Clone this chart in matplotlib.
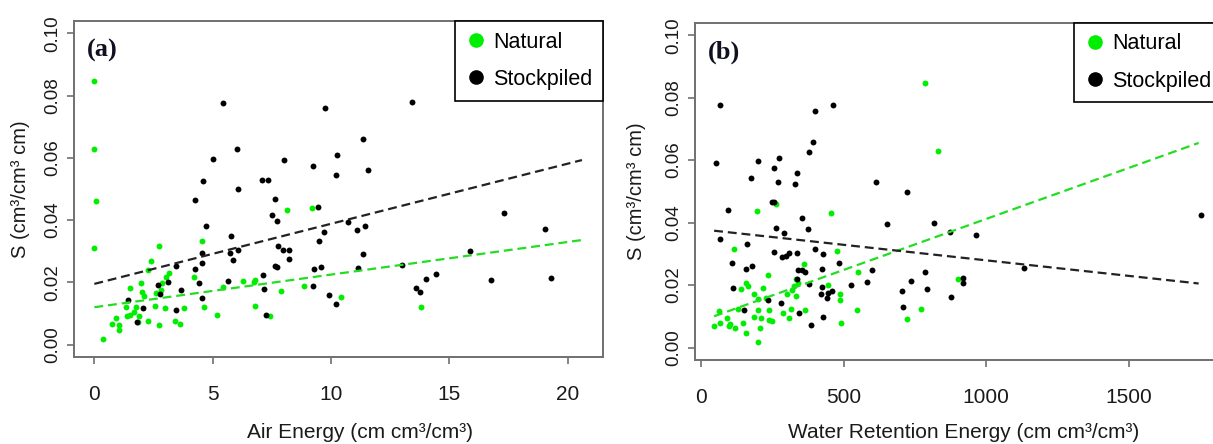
import matplotlib
matplotlib.use("Agg")
from matplotlib import pyplot as plt
from matplotlib.lines import Line2D

plt.rcParams['font.family'] = ['Liberation Sans', 'DejaVu Sans']

GREEN = '#00ee00'
BLACK = '#000000'

# panel (a): air energy
nat_a_x = [0.00, 0.00, 0.08, 0.00, 0.38, 2.75, 2.41, 2.28, 3.16, 3.02, 2.87, 1.97, 1.51, 2.03,
           2.10, 2.59, 2.80, 1.33, 1.75, 2.55, 3.00, 3.79, 4.21, 4.55, 4.65, 5.20, 5.45, 6.28,
           6.79, 6.75, 6.79, 7.43, 7.90, 8.12, 8.86, 9.19, 10.40, 13.82, 0.76, 0.92, 1.06,
           1.03, 1.37, 1.51, 1.68, 1.89, 1.86, 2.28, 2.75, 3.40, 3.62]
nat_a_y = [0.0847, 0.0629, 0.0461, 0.0309, 0.0019, 0.0316, 0.0268, 0.0241, 0.0230, 0.0216,
           0.0197, 0.0197, 0.0181, 0.0170, 0.0157, 0.0167, 0.0175, 0.0120, 0.0120, 0.0125,
           0.0117, 0.0116, 0.0218, 0.0333, 0.0120, 0.0096, 0.0186, 0.0205, 0.0208, 0.0200,
           0.0125, 0.0093, 0.0173, 0.0433, 0.0189, 0.0439, 0.0153, 0.0121, 0.0065, 0.0085,
           0.0063, 0.0046, 0.0092, 0.0095, 0.0104, 0.0092, 0.0073, 0.0077, 0.0062, 0.0077,
           0.0067]
stk_a_x = [5.45, 9.76, 6.04, 5.02, 8.02, 10.24, 9.23, 10.20, 4.58, 7.07, 7.34, 6.06, 4.24,
           7.65, 7.50, 7.72, 9.43, 4.72, 9.71, 5.76, 9.50, 7.76, 7.99, 8.23, 4.55, 5.74, 6.07,
           8.24, 5.86, 4.54, 3.45, 7.62, 7.70, 4.26, 9.29, 9.57, 7.13, 3.13, 4.43, 5.64, 2.69,
           3.65, 7.17, 9.24, 2.78, 1.44, 4.55, 9.93, 10.20, 2.04, 3.44, 1.79, 7.26, 13.44,
           11.33, 11.56, 10.72, 11.09, 11.43, 11.36, 11.15, 12.98, 17.29, 19.04, 15.87, 19.29,
           16.74, 14.44, 14.00, 13.57, 13.74]
stk_a_y = [0.0778, 0.0761, 0.0627, 0.0595, 0.0593, 0.0609, 0.0575, 0.0544, 0.0525, 0.0530,
           0.0530, 0.0499, 0.0465, 0.0468, 0.0416, 0.0398, 0.0442, 0.0382, 0.0361, 0.0350,
           0.0333, 0.0317, 0.0304, 0.0304, 0.0294, 0.0294, 0.0304, 0.0274, 0.0271, 0.0262,
           0.0254, 0.0254, 0.0250, 0.0242, 0.0242, 0.0250, 0.0222, 0.0201, 0.0197, 0.0205,
           0.0191, 0.0176, 0.0179, 0.0187, 0.0163, 0.0143, 0.0150, 0.0159, 0.0130, 0.0119,
           0.0111, 0.0074, 0.0096, 0.0780, 0.0660, 0.0562, 0.0395, 0.0367, 0.0382, 0.0291,
           0.0247, 0.0257, 0.0424, 0.0372, 0.0302, 0.0213, 0.0208, 0.0226, 0.0210, 0.0181,
           0.0170]
fit_a_x = [0, 20.6]
fit_a_nat = [0.0120, 0.0336]
fit_a_stk = [0.0195, 0.0593]

# panel (b): water retention energy
nat_b_x = [785, 831, 196, 262, 455, 116, 476, 361, 549, 234, 333, 341, 157, 164, 140, 217,
           326, 320, 446, 185, 227, 201, 302, 332, 488, 488, 129, 63, 201, 238, 289, 315, 366,
           548, 772, 90, 186, 211, 238, 248, 310, 146, 46, 67, 98, 100, 119, 158, 207, 200,
           491, 723, 902]
nat_b_y = [0.0846, 0.0628, 0.0438, 0.0459, 0.0432, 0.0316, 0.0309, 0.0267, 0.0241, 0.0231,
           0.0219, 0.0206, 0.0206, 0.0196, 0.0187, 0.0189, 0.0196, 0.0185, 0.0199, 0.0171,
           0.0160, 0.0156, 0.0171, 0.0164, 0.0171, 0.0152, 0.0123, 0.0118, 0.0119, 0.0119,
           0.0111, 0.0124, 0.0119, 0.0119, 0.0123, 0.0095, 0.0099, 0.0095, 0.0089, 0.0084,
           0.0096, 0.0077, 0.0068, 0.0077, 0.0068, 0.0075, 0.0063, 0.0045, 0.0063, 0.0019,
           0.0077, 0.0090, 0.0219]
stk_b_x = [67, 463, 400, 392, 379, 52, 200, 275, 256, 336, 176, 271, 330, 614, 721, 248, 255,
           95, 355, 262, 374, 292, 651, 818, 872, 67, 160, 256, 337, 400, 427, 283, 297, 309,
           485, 110, 159, 179, 341, 353, 364, 424, 600, 336, 785, 583, 737, 380, 527, 793, 425,
           458, 444, 420, 443, 704, 877, 113, 235, 281, 152, 344, 709, 427, 386, 1752, 964,
           1133, 920, 918]
stk_b_y = [0.0778, 0.0776, 0.0758, 0.0659, 0.0625, 0.0591, 0.0596, 0.0608, 0.0574, 0.0560,
           0.0543, 0.0529, 0.0523, 0.0529, 0.0498, 0.0465, 0.0465, 0.0440, 0.0416, 0.0382,
           0.0380, 0.0367, 0.0396, 0.0398, 0.0371, 0.0349, 0.0332, 0.0306, 0.0304, 0.0315,
           0.0301, 0.0289, 0.0293, 0.0303, 0.0272, 0.0270, 0.0252, 0.0261, 0.0249, 0.0249,
           0.0241, 0.0252, 0.0249, 0.0220, 0.0241, 0.0211, 0.0213, 0.0204, 0.0201, 0.0187,
           0.0195, 0.0180, 0.0176, 0.0170, 0.0157, 0.0182, 0.0162, 0.0189, 0.0151, 0.0141,
           0.0119, 0.0111, 0.0131, 0.0097, 0.0073, 0.0423, 0.0361, 0.0255, 0.0224, 0.0206]
fit_b_x = [46, 1745]
fit_b_nat = [0.0100, 0.0655]
fit_b_stk = [0.0374, 0.0205]

y_ticks = [0.00, 0.02, 0.04, 0.06, 0.08, 0.10]
ylab = "S (cm³/cm³ cm)"

W, H = 1213, 444
fig = plt.figure(figsize=(W / 100, H / 100), dpi=100)

# axes boxes in pixel coordinates (left, top, right, bottom)
boxes = [(74, 21, 603, 357), (695, 22.7, 1222, 360)]
panels = [
    dict(nx=nat_a_x, ny=nat_a_y, sx=stk_a_x, sy=stk_a_y, fx=fit_a_x, fn=fit_a_nat, fs=fit_a_stk,
         xlim=(-0.86, 21.49), xticks=[0, 5, 10, 15, 20], tag="(a)",
         xlab="Air Energy (cm cm³/cm³)", xlab_px=360, ylab_px=21),
    dict(nx=nat_b_x, ny=nat_b_y, sx=stk_b_x, sy=stk_b_y, fx=fit_b_x, fn=fit_b_nat, fs=fit_b_stk,
         xlim=(-21, 1827), xticks=[0, 500, 1000, 1500], tag="(b)",
         xlab="Water Retention Energy (cm cm³/cm³)", xlab_px=964, ylab_px=637),
]

for (l, t, r, b), p in zip(boxes, panels):
    ax = fig.add_axes([l / W, 1 - b / H, (r - l) / W, (b - t) / H])
    ax.scatter(p['nx'], p['ny'], s=18, color=GREEN, linewidths=0, zorder=3)
    ax.scatter(p['sx'], p['sy'], s=18, color=BLACK, linewidths=0, zorder=3)
    ax.plot(p['fx'], p['fn'], color='#22dd22', lw=1.6, dashes=(4, 2.2), zorder=4)
    ax.plot(p['fx'], p['fs'], color='#222222', lw=1.6, dashes=(4, 2.2), zorder=4)
    ax.set_xlim(*p['xlim'])
    ax.set_ylim(-0.004, 0.104)
    ax.set_xticks(p['xticks'])
    ax.set_xticklabels([str(v) for v in p['xticks']])
    ax.set_yticks(y_ticks)
    ax.set_yticklabels(["%.2f" % v for v in y_ticks])
    for s in ax.spines.values():
        s.set_color('#707070')
        s.set_linewidth(1.4)
    ax.tick_params(axis='both', direction='out', length=5, width=1.2, color='#707070',
                   labelcolor='#1a1a1a')
    ax.tick_params(axis='x', labelsize=15, pad=15)
    ax.tick_params(axis='y', labelsize=13.5, pad=4)
    for lab in ax.get_yticklabels():
        lab.set_rotation(90)
        lab.set_va('center')
        lab.set_ha('right')

    ax.text(0.024, 0.912, p['tag'], transform=ax.transAxes, fontsize=19, fontweight='bold',
            family='Liberation Serif', va='center', ha='left', color='#101020')

    handles = [Line2D([], [], ls='none', marker='o', markersize=9.5, color=GREEN),
               Line2D([], [], ls='none', marker='o', markersize=9.5, color=BLACK)]
    leg = ax.legend(handles, ["Natural", "Stockpiled"], loc='upper right', fontsize=15.5,
                    borderaxespad=0, frameon=True, fancybox=False, handlelength=0.9,
                    handletextpad=0.35, borderpad=0.5, labelspacing=0.75)
    leg.get_frame().set_edgecolor('black')
    leg.get_frame().set_linewidth(1.2)
    leg.get_frame().set_alpha(1)

    fig.text(p['xlab_px'] / W, 1 - 438 / H, p['xlab'], fontsize=15, ha='center',
             va='baseline', color='#1a1a1a')
    fig.text(p['ylab_px'] / W, 1 - ((t + b) / 2) / H, ylab, fontsize=14.5, rotation=90,
             ha='center', va='center', color='#1a1a1a')

fig.savefig("out.png", dpi=100)
